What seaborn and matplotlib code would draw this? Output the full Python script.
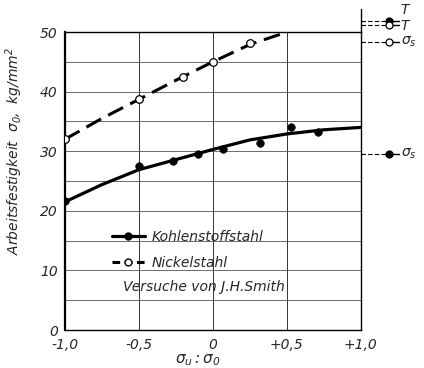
import matplotlib
matplotlib.use("Agg")
import matplotlib.pyplot as plt
import seaborn as sns
from matplotlib.lines import Line2D

# data
curve_x = [-1.0, -0.75, -0.5, -0.25, 0.0, 0.25, 0.5, 0.75, 1.0]
kohlen_curve = [21.5, 24.4, 26.9, 28.6, 30.3, 31.9, 32.9, 33.6, 34.0]
nickel_curve_x = [-1.0, -0.75, -0.5, -0.25, 0.0, 0.25, 0.5]
nickel_curve = [32.0, 35.5, 38.7, 41.9, 45.0, 47.9, 50.0]

kohlen_pts_x = [-1.0, -0.5, -0.27, -0.1, 0.07, 0.32, 0.53, 0.71]
kohlen_pts_y = [21.7, 27.6, 28.4, 29.6, 30.4, 31.4, 34.1, 33.3]
nickel_pts_x = [-1.0, -0.5, -0.2, 0.0, 0.25]
nickel_pts_y = [32.1, 38.7, 42.5, 44.9, 48.1]

# values marked on the right edge
side_labels = ["T", "T", r"$\sigma_s$", r"$\sigma_s$"]
side_values = [51.9, 51.1, 48.4, 29.6]
side_filled = [True, False, False, True]
label_shift = [1.8, -0.1, 0.0, 0.0]   # nudges so the two T's don't collide

x_ticks = [-1.0, -0.5, 0.0, 0.5, 1.0]
x_ticklabels = ["-1,0", "-0,5", "0", "+0,5", "+1,0"]
y_ticks = [0, 10, 20, 30, 40, 50]

sns.set_style("white")
plt.rcParams["font.family"] = ["DejaVu Sans"]
plt.rcParams["font.style"] = "italic"
plt.rcParams["mathtext.default"] = "it"

fig = plt.figure(figsize=(4.24, 3.68), dpi=100)
ax = fig.add_axes([0.153, 0.103, 0.698, 0.81])

# grid
for gx in [-0.5, 0.0, 0.5]:
    ax.axvline(gx, color="#333333", lw=0.7, zorder=0)
for gy in range(5, 50, 5):
    ax.axhline(gy, color="#555555", lw=0.6, zorder=0)

# curves
sns.lineplot(x=curve_x, y=kohlen_curve, ax=ax, color="black", lw=2.3)
sns.lineplot(x=nickel_curve_x, y=nickel_curve, ax=ax, color="black", lw=2.2,
             linestyle=(0, (5.5, 2.6)))

# measured points
sns.scatterplot(x=kohlen_pts_x, y=kohlen_pts_y, ax=ax, color="black",
                s=30, edgecolor="black", zorder=5)
sns.scatterplot(x=nickel_pts_x, y=nickel_pts_y, ax=ax, color="white",
                s=30, edgecolor="black", linewidth=0.9, zorder=5)

ax.set_xlim(-1.0, 1.0)
ax.set_ylim(0, 50)
ax.set_xticks(x_ticks)
ax.set_xticklabels(x_ticklabels)
ax.set_yticks(y_ticks)
ax.tick_params(length=0, labelsize=10)
ax.tick_params(axis="x", pad=6)
ax.tick_params(axis="y", pad=5)
for sp in ax.spines.values():
    sp.set_color("black")
    sp.set_linewidth(1.0)
ax.spines["left"].set_linewidth(1.6)

# right border extends above the top
ax.plot([1.0, 1.0], [50, 53.8], color="black", lw=1.0, clip_on=False)

# marks beside the chart
for lab, val, filled, dy in zip(side_labels, side_values, side_filled,
                                label_shift):
    ax.plot([1.0, 1.19], [val, val], color="black", lw=0.8,
            linestyle=(0, (4, 2)), clip_on=False)
    ax.plot([1.19, 1.26], [val, val], color="black", lw=1.0, clip_on=False)
    ax.plot([1.19], [val], marker="o", ms=5,
            mfc="black" if filled else "white", mec="black", mew=0.9,
            clip_on=False)
    ax.text(1.27, val + dy, lab, fontsize=10, va="center", ha="left")

ax.set_xlabel(r"$\sigma_u : \sigma_0$", fontsize=11)
ax.xaxis.set_label_coords(0.45, -0.075)
ax.set_ylabel(r"Arbeitsfestigkeit  $\sigma_0$,  kg/mm$^2$", fontsize=10)
ax.yaxis.set_label_coords(-0.135, 0.6)

handles = [
    Line2D([], [], color="black", lw=2.3, marker="o", ms=5),
    Line2D([], [], color="black", lw=2.2, linestyle=(0, (2.5, 1.5)),
           marker="o", ms=5, mfc="white", mec="black"),
]
leg = ax.legend(handles, ["Kohlenstoffstahl", "Nickelstahl"], frameon=False,
                loc="upper left", bbox_to_anchor=(0.135, 0.358),
                fontsize=10, handlelength=2.4, handletextpad=0.5,
                labelspacing=0.85, borderpad=0)
ax.text(-0.06, 7.2, "Versuche von J.H.Smith", fontsize=10, ha="center",
        va="center")

fig.savefig("out.png", dpi=100)
